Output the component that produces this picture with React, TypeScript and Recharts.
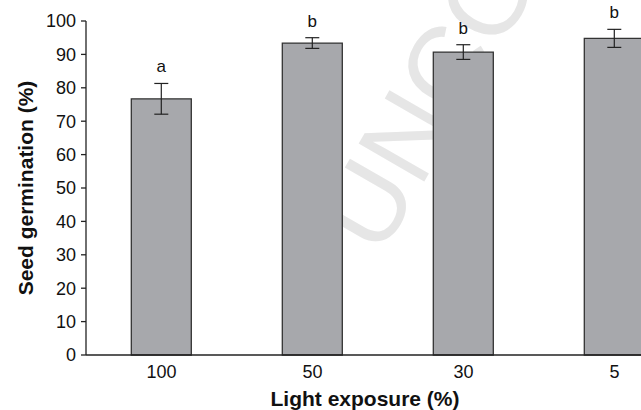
import { BarChart, Bar, XAxis, YAxis, ErrorBar, LabelList } from "recharts";

const categories = ["100", "50", "30", "5"];
const germination = [76.7, 93.4, 90.7, 94.8];
const errors = [4.6, 1.6, 2.2, 2.7];
const letters = ["a", "b", "b", "b"];
const yTicks = [0, 10, 20, 30, 40, 50, 60, 70, 80, 90, 100];

const data = categories.map((c, i) => ({
  light: c,
  value: germination[i],
  err: errors[i],
  letter: letters[i],
}));

const FONT = "'Liberation Sans', Arial, sans-serif";

// letter above the error bar
function LetterLabel(props: any) {
  const { x, y, width, height, index } = props;
  const d = data[index];
  const errTop = y - (d.err * height) / d.value;
  return (
    <text x={x + width / 2} y={errTop - 11} textAnchor="middle" fontSize={17} fontFamily={FONT} fill="#111">
      {d.letter}
    </text>
  );
}

export default function App() {
  return (
    <div style={{ position: "fixed", left: 0, top: 0, width: 641, height: 410, overflow: "hidden", background: "#fff" }}>
      <svg width={641} height={410} style={{ position: "absolute", left: 0, top: 0 }}>
        <text
          x={380}
          y={258}
          transform="rotate(-60 380 258)"
          fontSize={110}
          fontFamily={FONT}
          fill="#e6e6e6"
        >
          UNCORRECTED PROOF
        </text>
      </svg>
      <div style={{ position: "absolute", left: 0, top: 0 }}>
        <BarChart
          width={720}
          height={410}
          data={data}
          margin={{ top: 21, right: 30, bottom: 25, left: 0 }}
          barCategoryGap="30%"
        >
          <XAxis
            dataKey="light"
            height={30}
            tickLine={false}
            tickSize={5}
            tickMargin={5}
            axisLine={{ stroke: "#222", strokeWidth: 1.3 }}
            tick={{ fill: "#111", fontSize: 18, fontFamily: FONT }}
            label={{
              content: () => (
                <text x={365} y={406} textAnchor="middle" fontSize={21} fontWeight="bold" fontFamily={FONT} fill="#111">
                  Light exposure (%)
                </text>
              ),
            }}
          />
          <YAxis
            width={86}
            domain={[0, 100]}
            ticks={yTicks}
            interval={0}
            tickSize={5}
            tickMargin={5}
            axisLine={{ stroke: "#222", strokeWidth: 1.3 }}
            tickLine={{ stroke: "#222", strokeWidth: 1.3 }}
            tick={{ fill: "#111", fontSize: 18, fontFamily: FONT }}
            label={{
              content: () => (
                <text
                  x={33}
                  y={188}
                  transform="rotate(-90 33 188)"
                  textAnchor="middle"
                  fontSize={21}
                  fontWeight="bold"
                  fontFamily={FONT}
                  fill="#111"
                >
                  Seed germination (%)
                </text>
              ),
            }}
          />
          <Bar dataKey="value" fill="#a7a8ac" stroke="#333" strokeWidth={1.3} isAnimationActive={false}>
            <ErrorBar dataKey="err" width={7} stroke="#222" strokeWidth={1.2} />
            <LabelList dataKey="letter" content={<LetterLabel />} />
          </Bar>
        </BarChart>
      </div>
    </div>
  );
}
